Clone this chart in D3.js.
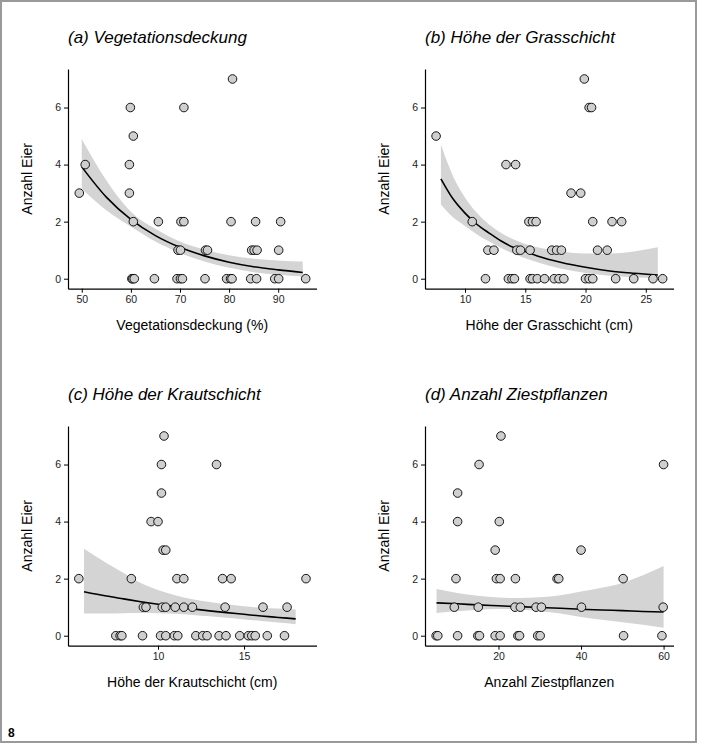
<!DOCTYPE html>
<html>
<head>
<meta charset="utf-8">
<script src="https://cdn.jsdelivr.net/npm/d3@7"></script>
<style>
  body { margin: 0; background: #fff; }
  svg { font-family: "Liberation Sans", Arial, sans-serif; }
  .tick text { fill: #222; font-size: 10.5px; font-family: "Liberation Sans", Arial, sans-serif; }
  .domain, .tick line { stroke: #000; }
</style>
</head>
<body>
<div id="chart"></div>
<script>

// (a) Vegetationsdeckung: points
var vegX = [80.7, 59.9, 70.8, 60.5, 50.7, 59.7, 49.5, 59.7,
    60.5, 65.6, 70.2, 70.8, 80.4, 85.4, 90.5,
    69.6, 70.1, 75.2, 75.6, 84.6, 85.1, 85.7, 90.1,
    60.2, 60.4, 60.7, 64.8, 69.4, 70.1, 70.5, 75.1, 79.5, 80.3, 80.6, 84.4, 85.6, 89.3, 90.1, 95.6];
var vegY = [7, 6, 6, 5, 4, 4, 3, 3,
    2, 2, 2, 2, 2, 2, 2,
    1, 1, 1, 1, 1, 1, 1, 1,
    0, 0, 0, 0, 0, 0, 0, 0, 0, 0, 0, 0, 0, 0, 0, 0];
// (a) fitted curve + band
var vegFitX = [50, 55, 60, 65, 70, 75, 80, 85, 90, 95];
var vegFit = [3.92, 2.86, 2.08, 1.51, 1.1, 0.8, 0.58, 0.42, 0.31, 0.22];
var vegUpper = [4.9, 3.45, 2.35, 1.75, 1.3, 1.02, 0.82, 0.7, 0.64, 0.6];
var vegLower = [3.15, 2.4, 1.83, 1.3, 0.9, 0.6, 0.38, 0.23, 0.14, 0.08];

// (b) Hoehe der Grasschicht
var grasX = [19.9, 20.3, 20.5, 7.6, 13.4, 14.2, 18.8, 19.6,
    10.6, 15.3, 15.6, 15.9, 20.6, 22.2, 23.0,
    11.9, 12.4, 14.3, 14.6, 15.4, 17.2, 17.6, 18.0, 21.0, 21.8,
    11.7, 13.6, 13.9, 14.1, 15.4, 15.6, 16.0, 16.6, 17.4, 17.8, 18.2, 20.0, 20.3, 20.6, 22.5, 24.0, 25.6, 26.4];
var grasY = [7, 6, 6, 5, 4, 4, 3, 3,
    2, 2, 2, 2, 2, 2, 2,
    1, 1, 1, 1, 1, 1, 1, 1, 1, 1,
    0, 0, 0, 0, 0, 0, 0, 0, 0, 0, 0, 0, 0, 0, 0, 0, 0, 0];
var grasFitX = [8, 9, 10, 11, 12, 13, 14, 15, 16, 18, 20, 22, 24, 26];
var grasFit = [3.5, 2.8, 2.3, 1.9, 1.6, 1.32, 1.1, 0.95, 0.8, 0.57, 0.4, 0.27, 0.19, 0.13];
var grasUpper = [4.7, 3.6, 2.85, 2.3, 1.9, 1.6, 1.38, 1.22, 1.1, 0.95, 0.88, 0.88, 0.95, 1.1];
var grasLower = [2.6, 2.15, 1.85, 1.55, 1.3, 1.08, 0.88, 0.72, 0.58, 0.35, 0.2, 0.1, 0.05, 0.02];

// (c) Hoehe der Krautschicht
var krautX = [10.35, 10.2, 13.4, 10.2, 9.6, 10.0, 10.3, 10.45,
    5.4, 8.45, 11.1, 11.5, 13.75, 14.25, 18.6,
    9.15, 9.3, 10.25, 10.45, 11.0, 11.5, 12.0, 13.9, 16.1, 17.5,
    7.55, 7.8, 7.9, 9.1, 10.15, 10.45, 10.95, 11.15, 12.2, 12.6, 12.85, 13.55, 13.95, 14.75, 15.25, 15.45, 15.65, 16.35, 17.35];
var krautY = [7, 6, 6, 5, 4, 4, 3, 3,
    2, 2, 2, 2, 2, 2, 2,
    1, 1, 1, 1, 1, 1, 1, 1, 1, 1,
    0, 0, 0, 0, 0, 0, 0, 0, 0, 0, 0, 0, 0, 0, 0, 0, 0, 0, 0];
var krautFitX = [5.7, 7, 8, 9, 10, 11, 12, 13, 14, 15, 16, 17, 18];
var krautFit = [1.54, 1.39, 1.29, 1.19, 1.1, 1.02, 0.94, 0.87, 0.81, 0.75, 0.69, 0.64, 0.59];
var krautUpper = [3.05, 2.55, 2.2, 1.85, 1.6, 1.42, 1.28, 1.18, 1.1, 1.03, 0.98, 0.95, 0.92];
var krautLower = [0.78, 0.78, 0.79, 0.8, 0.79, 0.77, 0.73, 0.68, 0.63, 0.57, 0.52, 0.46, 0.4];

// (d) Anzahl Ziestpflanzen
var ziestX = [20.6, 15.3, 60, 10.1, 10.1, 20.2, 19.2, 40,
    9.7, 19.5, 20.4, 24.1, 34.2, 34.6, 50.2,
    9.3, 15.1, 24.0, 25.3, 29.1, 30.4, 40.1, 59.9,
    4.9, 5.3, 10.1, 15.0, 15.4, 19.2, 20.4, 24.7, 25.1, 29.5, 30.1, 50.3, 59.6];
var ziestY = [7, 6, 6, 5, 4, 4, 3, 3,
    2, 2, 2, 2, 2, 2, 2,
    1, 1, 1, 1, 1, 1, 1, 1,
    0, 0, 0, 0, 0, 0, 0, 0, 0, 0, 0, 0, 0];
var ziestFitX = [5, 10, 15, 20, 25, 30, 35, 40, 45, 50, 55, 60];
var ziestFit = [1.15, 1.12, 1.08, 1.05, 1.02, 0.99, 0.96, 0.93, 0.9, 0.88, 0.85, 0.83];
var ziestUpper = [1.64, 1.5, 1.4, 1.34, 1.32, 1.35, 1.42, 1.55, 1.68, 1.85, 2.12, 2.44];
var ziestLower = [0.8, 0.86, 0.91, 0.94, 0.92, 0.86, 0.78, 0.66, 0.56, 0.47, 0.38, 0.28];

var yTicks = [0, 2, 4, 6];

var panels = [
    {title: "(a) Vegetationsdeckung", xlab: "Vegetationsdeckung (%)", left: 68, top: 69,
     xdom: [47.2, 97.8], xticks: [50, 60, 70, 80, 90],
     px: vegX, py: vegY, fx: vegFitX, fy: vegFit, lo: vegLower, hi: vegUpper},
    {title: "(b) Höhe der Grasschicht", xlab: "Höhe der Grasschicht (cm)", left: 425, top: 69,
     xdom: [6.68, 27.3], xticks: [10, 15, 20, 25],
     px: grasX, py: grasY, fx: grasFitX, fy: grasFit, lo: grasLower, hi: grasUpper},
    {title: "(c) Höhe der Krautschicht", xlab: "Höhe der Krautschicht (cm)", left: 68, top: 426,
     xdom: [4.77, 19.21], xticks: [10, 15],
     px: krautX, py: krautY, fx: krautFitX, fy: krautFit, lo: krautLower, hi: krautUpper},
    {title: "(d) Anzahl Ziestpflanzen", xlab: "Anzahl Ziestpflanzen", left: 425, top: 426,
     xdom: [2.2, 62.4], xticks: [20, 40, 60],
     px: ziestX, py: ziestY, fx: ziestFitX, fy: ziestFit, lo: ziestLower, hi: ziestUpper}
];

var pw = 248.5, ph = 219.7;

var svg = d3.select("#chart").append("svg")
    .attr("width", 704)
    .attr("height", 744);

svg.append("rect")
    .attr("x", 1).attr("y", 1)
    .attr("width", 695).attr("height", 741)
    .attr("fill", "none")
    .attr("stroke", "#9a9a9a")
    .attr("stroke-width", 2);

panels.forEach(function(p) {
    var x = d3.scaleLinear().domain(p.xdom).range([0, pw]);
    var y = d3.scaleLinear().domain([-0.35, 7.35]).range([ph, 0]);

    var g = svg.append("g")
        .attr("transform", "translate(" + p.left + "," + p.top + ")");

    var fit = p.fx.map(function(v, i) {
        return {x: v, y: p.fy[i], lo: p.lo[i], hi: p.hi[i]};
    });

    var band = d3.area()
        .curve(d3.curveMonotoneX)
        .x(function(d) { return x(d.x); })
        .y0(function(d) { return y(d.lo); })
        .y1(function(d) { return y(d.hi); });

    var line = d3.line()
        .curve(d3.curveMonotoneX)
        .x(function(d) { return x(d.x); })
        .y(function(d) { return y(d.y); });

    g.append("path")
        .datum(fit)
        .attr("d", band)
        .attr("fill", "#d4d4d4");

    g.append("path")
        .datum(fit)
        .attr("d", line)
        .attr("fill", "none")
        .attr("stroke", "#000")
        .attr("stroke-width", 1.6);

    var pts = p.px.map(function(v, i) { return {x: v, y: p.py[i]}; });

    g.selectAll("circle")
        .data(pts)
        .enter().append("circle")
        .attr("cx", function(d) { return x(d.x); })
        .attr("cy", function(d) { return y(d.y); })
        .attr("r", 4.3)
        .attr("fill", "#cfcfcf")
        .attr("stroke", "#000")
        .attr("stroke-width", 0.9);

    g.append("g")
        .attr("transform", "translate(0," + ph + ")")
        .call(d3.axisBottom(x).tickValues(p.xticks).tickSize(4).tickPadding(3).tickSizeOuter(0))
        .call(function(a) { a.select(".domain").attr("stroke-width", 1.2); });

    g.append("g")
        .call(d3.axisLeft(y).tickValues(yTicks).tickSize(4).tickPadding(3).tickSizeOuter(0))
        .call(function(a) { a.select(".domain").attr("stroke-width", 1.2); });

    g.append("text")
        .attr("x", 0)
        .attr("y", -26)
        .attr("font-size", 17)
        .attr("font-style", "italic")
        .text(p.title);

    g.append("text")
        .attr("x", pw / 2)
        .attr("y", ph + 41)
        .attr("text-anchor", "middle")
        .attr("font-size", 14)
        .text(p.xlab);

    g.append("text")
        .attr("transform", "translate(-36," + (ph / 2) + ") rotate(-90)")
        .attr("text-anchor", "middle")
        .attr("font-size", 14)
        .text("Anzahl Eier");
});

svg.append("text")
    .attr("x", 8)
    .attr("y", 737)
    .attr("font-size", 12)
    .attr("font-weight", "bold")
    .text("8");

</script>
</body>
</html>
